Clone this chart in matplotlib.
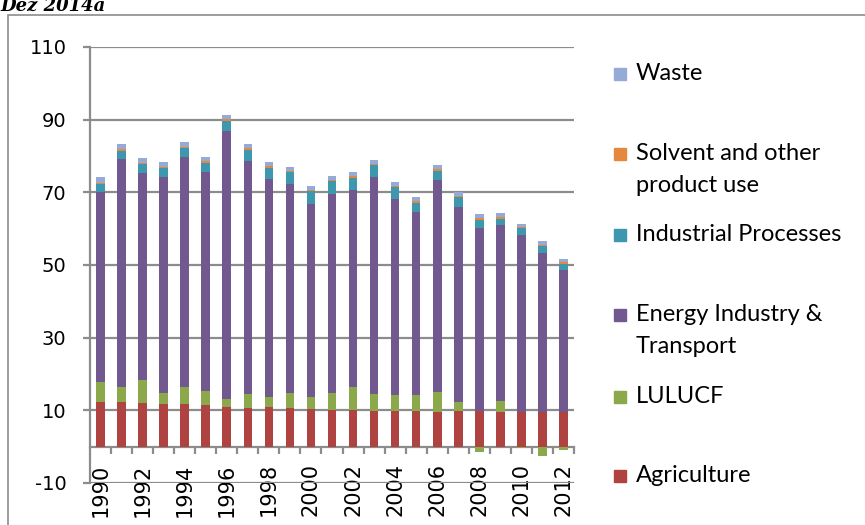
import numpy as np
import matplotlib
matplotlib.use('Agg')
import matplotlib.pyplot as plt
from matplotlib.patches import Rectangle

years = list(range(1990, 2013))
agriculture = [12.4, 12.2, 12.0, 11.8, 11.8, 11.5, 10.9, 10.7, 11.0, 10.6, 10.4, 10.2,
               10.2, 9.7, 9.9, 9.7, 9.6, 9.8, 9.7, 9.5, 9.6, 9.6, 9.5]
lulucf = [5.3, 4.1, 6.3, 3.0, 4.5, 3.7, 2.3, 3.8, 2.7, 4.3, 3.2, 4.7,
          6.1, 4.9, 4.4, 4.5, 5.4, 2.5, -1.5, 3.1, -0.3, -2.7, -0.9]
energy = [52.3, 62.9, 57.1, 59.3, 63.4, 60.3, 73.7, 64.2, 60.0, 57.4, 53.3, 54.7,
          54.4, 59.6, 54.0, 50.5, 58.4, 53.7, 50.5, 48.5, 48.7, 43.8, 39.0]
industrial = [2.3, 2.2, 2.3, 2.5, 2.5, 2.7, 2.8, 3.0, 3.1, 3.3, 3.4, 3.4,
              3.3, 3.3, 3.1, 2.5, 2.6, 2.6, 2.3, 1.6, 1.8, 1.8, 1.8]
solvent = [0.4] * 23
waste = [1.4, 1.5, 1.3, 1.3, 1.3, 1.2, 1.2, 1.2, 1.1, 1.1, 1.1, 1.1,
         1.1, 1.1, 1.0, 1.0, 1.0, 1.0, 1.0, 1.1, 0.9, 1.0, 0.9]

series = [
    ('Agriculture', agriculture, '#AE4341'),
    ('LULUCF', lulucf, '#8BA84A'),
    ('Energy Industry &\nTransport', energy, '#71588F'),
    ('Industrial Processes', industrial, '#3D97AE'),
    ('Solvent and other\nproduct use', solvent, '#E3883C'),
    ('Waste', waste, '#95AAD6'),
]

plt.rcParams['font.family'] = ['Lato', 'DejaVu Sans']
plt.rcParams['axes.unicode_minus'] = False

fig = plt.figure(figsize=(8.65, 5.25), dpi=100)
ax = fig.add_axes([90 / 865, 1 - 483 / 525, 484 / 865, 436 / 525])

x = np.arange(len(years))
pos = np.zeros(len(years))
neg = np.zeros(len(years))
for name, vals, col in series:
    v = np.array(vals, dtype=float)
    bottom = np.where(v >= 0, pos, neg)
    ax.bar(x, v, 0.41, bottom=bottom, color=col, edgecolor='none', zorder=3)
    pos = pos + np.where(v >= 0, v, 0)
    neg = neg + np.where(v < 0, v, 0)

ax.set_xlim(-0.5, len(years) - 0.5)
ax.set_ylim(-10, 110)
ax.set_yticks(range(-10, 111, 20))
ax.yaxis.grid(True, color='#8C8C8C', lw=1.6)
ax.set_axisbelow(True)

for s in ['top', 'right']:
    ax.spines[s].set_visible(False)
ax.spines['left'].set_color('#8C8C8C')
ax.spines['left'].set_linewidth(1.6)
ax.spines['bottom'].set_position(('data', 0))
ax.spines['bottom'].set_color('#8C8C8C')
ax.spines['bottom'].set_linewidth(1.6)
ax.spines['bottom'].set_zorder(2)

ax.set_xticks(np.arange(0.5, len(years)))
ax.set_xticklabels([])
ax.set_xticks(x[::2], minor=True)
ax.set_xticklabels([str(y) for y in years[::2]], minor=True, rotation=90,
                   fontsize=15, family='DejaVu Sans')
ax.tick_params(axis='x', which='major', length=5, width=1.6, color='#8C8C8C', direction='out')
ax.tick_params(axis='x', which='minor', length=0, pad=12)
ax.tick_params(axis='y', length=5, width=1.6, color='#8C8C8C', labelsize=14, pad=12)
for t in ax.get_yticklabels():
    t.set_family('DejaVu Sans')

# legend drawn in the Excel layout
leg_y = [74, 154, 235, 315, 397, 476]
for (name, vals, col), yy in zip(series[::-1], leg_y):
    fig.patches.append(Rectangle((614 / 865, 1 - (yy + 6) / 525), 12 / 865, 12 / 525,
                                 transform=fig.transFigure, color=col, zorder=5))
    fig.text(636 / 865, 1 - (yy - 11) / 525, name, fontsize=17, va='top',
             ha='left', linespacing=1.62)

# outer chart border and cut-off title
fig.patches.append(Rectangle((8 / 865, -0.01), 1.1, 1 - 15 / 525 + 0.01,
                             transform=fig.transFigure, fill=False,
                             edgecolor='#8C8C8C', lw=1.2))
fig.text(0.0, 1 - 11 / 525, 'Dez 2014a', fontsize=13, style='italic', weight='bold',
         family='DejaVu Serif', va='baseline', ha='left')

fig.savefig('out.png', dpi=100)
